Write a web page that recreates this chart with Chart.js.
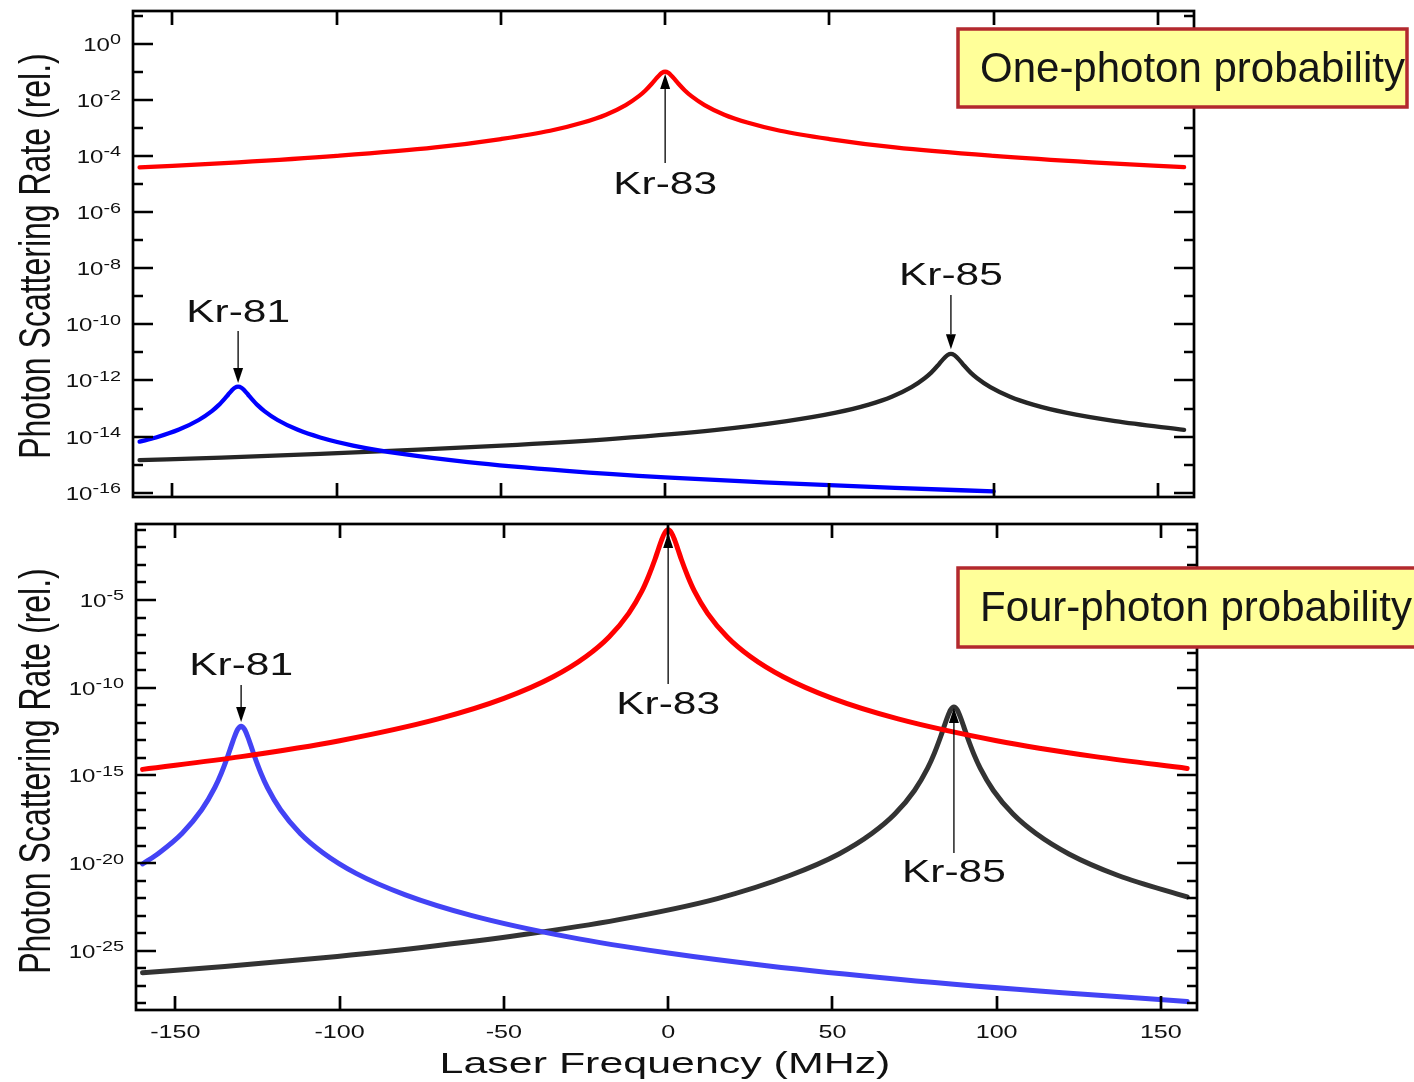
<!DOCTYPE html>
<html>
<head>
<meta charset="utf-8">
<title>Photon scattering rate vs laser frequency</title>
<script src="https://cdn.jsdelivr.net/npm/chart.js@4.4.0/dist/chart.umd.min.js"></script>
<style>
  body { margin: 0; background: #fff; }
  #wrap { position: relative; width: 1414px; height: 1082px; overflow: hidden; }
  canvas { position: absolute; left: 0; }
  #topChart { top: 0; }
  #bottomChart { top: 510px; }
</style>
</head>
<body>
<div id="wrap">
  <canvas id="topChart" width="1414" height="510"></canvas>
  <canvas id="bottomChart" width="1414" height="572"></canvas>
</div>
<script>
// ---- data (laser frequency in MHz, rate relative) ----
var redX = [-160, -130, -100, -70, -50, -35, -25, -18, -12, -8, -6, -4, -3, -2, -1, 0, 1, 2, 3, 4, 6, 8, 12, 18, 25, 35, 50, 70, 100, 130, 158];
var redTopY = [3.9e-5, 5.9e-5, 1.0e-4, 2.0e-4, 4.0e-4, 7.9e-4, 1.55e-3, 2.95e-3, 6.5e-3, 1.35e-2, 2.15e-2, 3.8e-2, 5.25e-2, 7.1e-2, 9.1e-2, 0.1,
  9.1e-2, 7.1e-2, 5.25e-2, 3.8e-2, 2.15e-2, 1.35e-2, 6.5e-3, 2.95e-3, 1.55e-3, 7.9e-4, 4.0e-4, 2.0e-4, 1.0e-4, 5.9e-5, 4.0e-5];
var redBotY = [2.2e-15, 1.17e-14, 9.5e-14, 1.66e-12, 2.45e-11, 4.2e-10, 6.0e-9, 7.8e-8, 1.74e-6, 3.2e-5, 2.2e-4, 2.1e-3, 7.6e-3, 2.6e-2, 6.8e-2, 0.1,
  6.8e-2, 2.6e-2, 7.6e-3, 2.1e-3, 2.2e-4, 3.2e-5, 1.74e-6, 7.8e-8, 6.0e-9, 4.2e-10, 2.45e-11, 1.66e-12, 9.5e-14, 1.17e-14, 2.5e-15];

var blueTopX = [-160, -155, -148, -142, -138, -136, -134, -133, -132, -131, -130, -129, -128, -127, -126, -124, -122, -118, -112, -105, -95, -80, -60, -30, 0, 30, 70, 100];
var blueTopY = [6.6e-15, 9.3e-15, 1.78e-14, 3.9e-14, 8.1e-14, 1.29e-13, 2.3e-13, 3.16e-13, 4.3e-13, 5.5e-13, 6.0e-13,
  5.5e-13, 4.3e-13, 3.16e-13, 2.3e-13, 1.29e-13, 8.1e-14, 3.9e-14, 1.78e-14, 9.3e-15, 4.8e-15, 2.4e-15, 1.23e-15, 6.0e-16, 3.5e-16, 2.35e-16, 1.48e-16, 1.12e-16];

var blueBotX = [-160, -155, -148, -142, -138, -136, -134, -133, -132, -131, -130, -129, -128, -127, -126, -124, -122, -118, -112, -105, -95, -80, -60, -30, 0, 30, 70, 120, 158];
var blueBotY = [8.9e-21, 3.8e-20, 4.9e-19, 1.1e-17, 2.04e-16, 1.38e-15, 1.35e-14, 4.8e-14, 1.62e-13, 4.3e-13, 6.3e-13,
  4.3e-13, 1.62e-13, 4.8e-14, 1.35e-14, 1.38e-15, 2.04e-16, 1.1e-17, 4.9e-19, 3.8e-20, 2.6e-21, 1.55e-22, 1.05e-23, 6.0e-25, 7.4e-26, 1.41e-26, 2.4e-27, 4.0e-28, 1.3e-28];

var blackX = [-160, -135, -105, -75, -45, -15, 15, 37, 52, 62, 69, 75, 79, 81, 83, 84, 85, 86, 87, 88, 89, 90, 91, 93, 95, 99, 105, 112, 122, 137, 158];
var blackTopY = [1.45e-15, 1.78e-15, 2.4e-15, 3.4e-15, 5.1e-15, 8.5e-15, 1.7e-14, 3.55e-14, 7.1e-14, 1.38e-13, 2.63e-13, 5.75e-13, 1.2e-12, 1.9e-12, 3.4e-12, 4.7e-12, 6.3e-12, 8.1e-12, 8.9e-12,
  8.1e-12, 6.3e-12, 4.7e-12, 3.4e-12, 1.9e-12, 1.2e-12, 5.75e-13, 2.63e-13, 1.38e-13, 7.1e-14, 3.55e-14, 1.74e-14];
var blackBotY = [5.5e-27, 1.26e-26, 4.0e-26, 1.55e-25, 7.9e-25, 6.0e-24, 9.5e-23, 1.95e-21, 3.3e-20, 4.8e-19, 6.2e-18, 1.38e-16, 2.6e-15, 1.74e-14, 1.7e-13, 6.0e-13, 2.04e-12, 5.4e-12, 7.9e-12,
  5.4e-12, 2.04e-12, 6.0e-13, 1.7e-13, 1.74e-14, 2.6e-15, 1.38e-16, 6.2e-18, 4.8e-19, 3.3e-20, 1.95e-21, 1.17e-22];

// tick positions
var xTicks = [-150, -100, -50, 0, 50, 100, 150];
var topMajorExp = [0, -2, -4, -6, -8, -10, -12, -14, -16];
var topMinorExp = [1, -1, -3, -5, -7, -9, -11, -13, -15];
var botMajorExp = [-5, -10, -15, -20, -25];
var botMinorExp = [-1, -2, -3, -4, -6, -7, -8, -9, -11, -12, -13, -14, -16, -17, -18, -19, -21, -22, -23, -24, -26, -27, -28];

// isotope markers: name, peak frequency, label / arrow tail / arrow tip (as rate values)
var krNames = ["Kr-83", "Kr-81", "Kr-85"];
var krFreq = [0, -130, 87];
var krTopLabel = [9.1e-6, 2.5e-10, 5.2e-9];
var krTopTail = [5.6e-5, 5.8e-11, 1.1e-9];
var krTopTip = [8.3e-2, 8.1e-13, 1.3e-11];
var krBotLabel = [9.1e-12, 1.7e-9, 2.4e-21];
var krBotTail = [1.6e-10, 1.4e-10, 3.8e-20];
var krBotTip = [6.6e-2, 1.1e-12, 6.9e-12];

var FONT = '"Liberation Sans", Arial, Helvetica, sans-serif';
var SX = 1.36; // the original figure is stretched sideways

function pts(xs, ys) {
  return xs.map(function (x, i) { return { x: x, y: ys[i] }; });
}

function sText(ctx, text, x, y, size, sx, align, baseline) {
  ctx.save();
  ctx.font = size + "px " + FONT;
  ctx.textAlign = align;
  ctx.textBaseline = baseline || "alphabetic";
  ctx.translate(x, y);
  ctx.scale(sx, 1);
  ctx.fillText(text, 0, 0);
  ctx.restore();
}

function textW(ctx, text, size, sx) {
  ctx.save();
  ctx.font = size + "px " + FONT;
  var w = ctx.measureText(text).width * sx;
  ctx.restore();
  return w;
}

function arrow(ctx, x, y0, y1) {
  // line from y0 to tip at y1
  var dir = y1 > y0 ? 1 : -1;
  var head = 15;
  ctx.save();
  ctx.strokeStyle = "#000";
  ctx.fillStyle = "#000";
  ctx.lineWidth = 1.3;
  ctx.beginPath();
  ctx.moveTo(x, y0);
  ctx.lineTo(x, y1 - dir * head);
  ctx.stroke();
  ctx.beginPath();
  ctx.moveTo(x, y1);
  ctx.lineTo(x - 5, y1 - dir * head);
  ctx.lineTo(x + 5, y1 - dir * head);
  ctx.closePath();
  ctx.fill();
  ctx.restore();
}

var panelPlugin = {
  id: "panel",
  afterDatasetsDraw: function (chart, args, opts) {
    var ctx = chart.ctx;
    var a = chart.chartArea;
    var xs = chart.scales.x;
    var ys = chart.scales.y;

    ctx.save();
    ctx.strokeStyle = "#000";
    ctx.lineWidth = 2.7;
    ctx.strokeRect(a.left, a.top, a.right - a.left, a.bottom - a.top);

    // x ticks, inward on top and bottom
    xTicks.forEach(function (v) {
      var px = Math.round(xs.getPixelForValue(v));
      ctx.beginPath();
      ctx.moveTo(px, a.bottom); ctx.lineTo(px, a.bottom - 14);
      ctx.moveTo(px, a.top); ctx.lineTo(px, a.top + 14);
      ctx.stroke();
    });
    // y ticks, inward on left and right
    function yTick(e, len) {
      var py = Math.round(ys.getPixelForValue(Math.pow(10, e)));
      ctx.beginPath();
      ctx.moveTo(a.left, py); ctx.lineTo(a.left + len, py);
      ctx.moveTo(a.right, py); ctx.lineTo(a.right - len, py);
      ctx.stroke();
    }
    opts.major.forEach(function (e) { yTick(e, 20); });
    opts.minor.forEach(function (e) { yTick(e, 10); });
    ctx.restore();

    ctx.fillStyle = "#111";
    // y tick labels as 10 with raised exponent
    opts.major.forEach(function (e) {
      var py = ys.getPixelForValue(Math.pow(10, e));
      var right = a.left - 12;
      var ex = String(e);
      var ew = textW(ctx, ex, 15, 1.32);
      var bw = textW(ctx, "10", 18.5, 1.3);
      sText(ctx, "10", right - ew - bw, py + 7, 18.5, 1.3, "left");
      sText(ctx, ex, right - ew, py + 0.5, 15, 1.32, "left");
    });

    // y axis title, rotated
    ctx.save();
    ctx.translate(50, opts.titleY);
    ctx.rotate(-Math.PI / 2);
    ctx.scale(1, 1.4);
    ctx.font = "32px " + FONT;
    ctx.textAlign = "center";
    ctx.fillText("Photon Scattering Rate (rel.)", 0, 0);
    ctx.restore();

    if (opts.xLabels) {
      xTicks.forEach(function (v) {
        sText(ctx, String(v), xs.getPixelForValue(v), a.bottom + 28, 18.5, SX, "center");
      });
      sText(ctx, "Laser Frequency (MHz)", 665, a.bottom + 63, 29, 1.48, "center");
    }

    // isotope labels and arrows
    for (var i = 0; i < krNames.length; i++) {
      var px = xs.getPixelForValue(krFreq[i]);
      sText(ctx, krNames[i], px, ys.getPixelForValue(opts.lab[i]), 31, 1.37, "center", "middle");
      arrow(ctx, px, ys.getPixelForValue(opts.tail[i]), ys.getPixelForValue(opts.tip[i]));
    }

    // caption box
    var b = opts.box;
    ctx.save();
    ctx.fillStyle = "#FFFF99";
    ctx.fillRect(b[0], b[1], b[2] - b[0], b[3] - b[1]);
    ctx.strokeStyle = "#B3292E";
    ctx.lineWidth = 3.5;
    ctx.strokeRect(b[0], b[1], b[2] - b[0], b[3] - b[1]);
    ctx.fillStyle = "#151515";
    ctx.font = "42px " + FONT;
    ctx.textBaseline = "middle";
    ctx.fillText(opts.caption, b[0] + 22, (b[1] + b[3]) / 2 + 2);
    ctx.restore();
  }
};

function makeChart(id, sets, yMin, yMax, pad, panelOpts) {
  var ctx = document.getElementById(id).getContext("2d");
  return new Chart(ctx, {
    type: "line",
    data: {
      datasets: sets.map(function (s) {
        return {
          data: s.data,
          borderColor: s.color,
          borderWidth: s.width,
          pointRadius: 0,
          fill: false,
          cubicInterpolationMode: "monotone",
          borderJoinStyle: "round",
          borderCapStyle: "round"
        };
      })
    },
    options: {
      responsive: false,
      devicePixelRatio: 1,
      animation: false,
      layout: { padding: pad },
      scales: {
        x: { type: "linear", min: -162, max: 161, display: false },
        y: { type: "logarithmic", min: yMin, max: yMax, display: false }
      },
      plugins: {
        legend: { display: false },
        tooltip: { enabled: false },
        panel: panelOpts
      }
    },
    plugins: [panelPlugin]
  });
}

makeChart("topChart", [
  { data: pts(redX, redTopY), color: "#FF0000", width: 4.3 },
  { data: pts(blueTopX, blueTopY), color: "#0000FF", width: 4.3 },
  { data: pts(blackX, blackTopY), color: "#262626", width: 4.3 }
], 7.03e-17, 14.6, { left: 133, right: 220, top: 11, bottom: 13 }, {
  major: topMajorExp, minor: topMinorExp, titleY: 256, xLabels: false,
  lab: krTopLabel, tail: krTopTail, tip: krTopTip,
  box: [958, 29, 1407, 107], caption: "One-photon probability"
});

makeChart("bottomChart", [
  { data: pts(redX, redBotY), color: "#FF0000", width: 5 },
  { data: pts(blueBotX, blueBotY), color: "#4343F5", width: 5 },
  { data: pts(blackX, blackBotY), color: "#333333", width: 5 }
], 4.2e-29, 0.215, { left: 136, right: 217, top: 14, bottom: 72 }, {
  major: botMajorExp, minor: botMinorExp, titleY: 261, xLabels: true,
  lab: krBotLabel, tail: krBotTail, tip: krBotTip,
  box: [958, 58, 1430, 137], caption: "Four-photon probability"
});
</script>
</body>
</html>
